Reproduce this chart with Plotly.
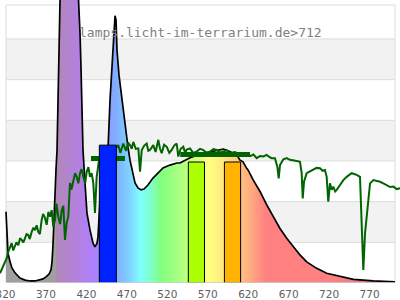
import plotly.graph_objects as go

# ---------------- data ----------------
# lamp spectrum (black curve with spectral fill)
lamp_nm = [320.6, 321.9, 323.1, 325.6, 328.0, 331.7, 335.5, 337.9, 344.1, 350.3, 356.5, 362.6,
           366.4, 370.1, 373.8, 376.2, 377.5, 378.7, 379.9, 381.2, 382.4, 383.7, 384.9, 386.1,
           387.4, 389.8, 394.8, 399.7, 404.7, 408.4, 410.9, 412.1, 413.3, 414.6, 415.8, 418.3,
           420.7, 424.5, 428.2, 430.6, 433.1, 434.3, 435.6, 436.8, 441.8, 446.7, 449.2, 451.6,
           452.9, 454.1, 455.4, 456.6, 457.8, 460.3, 464.0, 466.5, 468.9, 471.4, 473.9, 476.4,
           480.1, 483.8, 487.5, 491.2, 496.1, 502.3, 508.5, 514.7, 523.3, 532.0, 535.7, 548.1,
           564.2, 581.1, 589.3, 595.1, 605.8, 609.9, 613.6, 618.1, 619.8, 626.3, 634.6, 642.9,
           651.1, 659.3, 667.6, 675.8, 684.0, 692.3, 704.7, 717.0, 733.5, 750.0, 774.6, 801.4]
lamp_val = [1.75, 1.18, 0.74, 0.52, 0.37, 0.25, 0.17, 0.12, 0.07, 0.05, 0.05, 0.07,
            0.10, 0.15, 0.22, 0.32, 0.52, 0.93, 1.67, 2.29, 2.78, 3.27, 4.50, 5.73,
            6.96, 8.2, 9.4, 9.9, 9.4, 7.94, 6.96, 6.15, 5.31, 4.08, 3.27, 2.46,
            1.72, 1.30, 0.98, 0.89, 0.98, 1.13, 1.62, 2.04, 2.78, 3.27, 4.50, 5.24,
            5.73, 6.22, 6.57, 6.47, 5.73, 5.11, 4.50, 4.06, 3.69, 3.34, 3.02, 2.78,
            2.46, 2.34, 2.29, 2.31, 2.41, 2.58, 2.70, 2.83, 2.90, 2.95, 2.95, 3.08,
            3.19, 3.27, 3.29, 3.25, 3.15, 3.02, 2.98, 2.82, 2.78, 2.53, 2.25, 1.92,
            1.63, 1.34, 1.10, 0.89, 0.69, 0.52, 0.36, 0.24, 0.16, 0.09, 0.05, 0.03]

# daylight reference (green line)
day_nm = [313.2, 317.3, 321.5, 323.5, 325.6, 327.7, 329.5, 331.7, 333.5, 335.8, 338.0, 340.0,
          342.0, 344.1, 346.0, 348.2, 350.0, 352.4, 354.5, 356.5, 358.5, 360.5, 362.5, 364.7,
          366.5, 368.8, 370.9, 373.0, 375.0, 377.1, 379.1, 381.2, 383.0, 385.3, 387.5, 389.5,
          391.5, 393.5, 395.6, 397.6, 399.7, 401.5, 403.8, 406.0, 408.0, 410.0, 412.1, 414.0,
          416.2, 418.5, 420.4, 422.5, 424.4, 426.5, 428.5, 430.6, 432.7, 435.6, 446.7, 456.6,
          459.4, 462.0, 465.6, 469.0, 471.5, 473.9, 476.0, 478.0, 481.0, 484.2, 486.3, 488.4,
          491.5, 494.5, 496.5, 498.6, 502.7, 505.5, 508.9, 511.0, 513.1, 516.0, 519.3, 522.5,
          525.4, 528.5, 531.6, 533.6, 536.5, 539.8, 542.0, 544.0, 548.1, 552.0, 556.3, 560.5,
          564.5, 568.5, 572.8, 577.0, 581.1, 585.0, 589.2, 593.5, 597.5, 603.5, 609.9, 616.0,
          622.2, 626.5, 630.5, 634.5, 638.7, 642.9, 646.0, 649.0, 653.1, 656.0, 657.7, 659.3,
          663.5, 667.6, 671.5, 675.7, 680.0, 684.0, 686.1, 687.4, 689.0, 692.3, 696.5, 700.5,
          704.5, 708.8, 712.0, 714.9, 717.0, 719.0, 721.1, 723.2, 725.2, 727.5, 729.4, 733.5,
          737.6, 741.7, 744.5, 747.9, 751.0, 754.1, 758.2, 760.3, 762.3, 764.4, 766.5, 770.6,
          774.7, 778.5, 782.9, 787.0, 791.2, 795.5, 799.5, 803.5, 807.7]
day_val = [0.24, 0.44, 0.61, 0.77, 0.89, 0.98, 0.80, 0.89, 1.00, 0.93, 1.10, 1.06,
           1.00, 1.10, 1.20, 1.18, 1.08, 1.26, 1.36, 1.30, 1.42, 1.26, 1.20, 1.55,
           1.70, 1.60, 1.43, 1.75, 1.63, 1.79, 1.38, 1.55, 1.95, 1.63, 1.45, 1.79,
           1.90, 1.06, 1.48, 1.63, 2.46, 2.30, 2.53, 2.70, 2.61, 2.45, 2.70, 2.80,
           2.61, 2.45, 2.74, 2.85, 2.61, 2.70, 2.46, 1.72, 2.61, 3.02, 3.22, 3.32,
           3.39, 3.20, 3.43, 3.25, 3.45, 3.39, 3.30, 3.47, 3.30, 3.31, 2.74, 3.27,
           3.38, 3.43, 3.25, 3.27, 3.39, 3.22, 3.52, 3.30, 3.19, 3.40, 3.35, 3.20,
           3.27, 3.38, 3.43, 3.11, 3.30, 3.35, 3.20, 3.28, 3.31, 3.20, 3.23, 3.30,
           3.27, 3.20, 3.23, 3.29, 3.27, 3.21, 3.23, 3.26, 3.19, 3.22, 3.16, 3.17,
           3.12, 3.16, 3.07, 3.12, 3.11, 3.15, 3.10, 3.07, 3.07, 2.86, 2.57, 2.90,
           3.04, 3.07, 3.03, 3.02, 3.00, 2.98, 2.70, 2.08, 2.49, 2.70, 2.75, 2.78,
           2.83, 2.82, 2.76, 2.78, 2.61, 2.00, 2.45, 2.29, 2.37, 2.25, 2.29, 2.41,
           2.53, 2.61, 2.66, 2.70, 2.68, 2.66, 2.61, 1.63, 0.32, 1.22, 1.63, 2.45,
           2.53, 2.52, 2.49, 2.45, 2.41, 2.36, 2.37, 2.31, 2.33]

# band bars
bar_center = [446.5, 556.0, 600.6]
bar_width = [21.0, 20.0, 20.0]
bar_value = [3.39, 2.975, 2.975]
bar_color = ["#0022ff", "#aaff00", "#ffb300"]

# daylight band averages (thick dark green segments)
seg_start = [425.7, 536.0]
seg_end = [467.7, 622.2]
seg_value = [3.06, 3.16]

tick_vals = [320, 370, 420, 470, 520, 570, 620, 670, 720, 770]
tick_text = [str(v) for v in tick_vals]

title_text = "lamps.licht-im-terrarium.de>712"

# spectral fill colours (wavelength -> colour)
fill_stops_nm = [320, 382.5, 383, 410, 430, 437, 458, 475, 487, 500, 512, 530, 545, 560,
                 572, 588, 612, 628, 642, 720, 760, 802]
fill_stops_col = ["rgb(160,160,160)", "rgb(160,160,160)", "rgb(176,136,184)", "rgb(180,128,225)",
                  "rgb(172,128,255)", "rgb(150,140,255)", "rgb(128,176,255)", "rgb(128,215,255)",
                  "rgb(128,255,255)", "rgb(128,255,200)", "rgb(128,255,128)", "rgb(160,255,128)",
                  "rgb(190,255,128)", "rgb(225,255,128)", "rgb(255,255,128)", "rgb(255,235,128)",
                  "rgb(255,192,128)", "rgb(255,160,128)", "rgb(255,128,128)", "rgb(255,128,128)",
                  "rgb(235,128,128)", "rgb(215,128,128)"]

# ---------------- figure ----------------
W, H = 400, 300
PLOT_H = 283
PX_PER_NM = 0.809
X0_NM = 320 - 5.5 / PX_PER_NM
X1_NM = X0_NM + W / PX_PER_NM
PX_PER_UNIT = 40.67
Y_TOP = PLOT_H / PX_PER_UNIT
FRAME_TOP = (PLOT_H - 5) / PX_PER_UNIT
FX0, FX1 = 6 / W, 395 / W

lo, hi = fill_stops_nm[0], fill_stops_nm[-1]
colorscale = [[(n - lo) / (hi - lo), c] for n, c in zip(fill_stops_nm, fill_stops_col)]

fig = go.Figure()

fig.add_trace(go.Scatter(
    x=lamp_nm, y=lamp_val, mode="lines", fill="tozeroy",
    fillgradient=dict(type="horizontal", colorscale=colorscale, start=lo, stop=hi),
    line=dict(color="black", width=1.7, shape="linear"), hoverinfo="skip", showlegend=False))

fig.add_trace(go.Scatter(
    x=day_nm, y=day_val, mode="lines", line=dict(color="#006400", width=2),
    hoverinfo="skip", showlegend=False))

for s, e, v in zip(seg_start, seg_end, seg_value):
    fig.add_trace(go.Scatter(x=[s, e], y=[v, v], mode="lines",
                             line=dict(color="#006400", width=5),
                             hoverinfo="skip", showlegend=False))

for c, w, v, col in zip(bar_center, bar_width, bar_value, bar_color):
    l, r = c - w / 2, c + w / 2
    fig.add_trace(go.Scatter(x=[l, l, r, r, l], y=[0, v, v, 0, 0], mode="lines",
                             fill="toself", fillcolor=col,
                             line=dict(color="black", width=1),
                             hoverinfo="skip", showlegend=False))

shapes = []
for k in (1, 3, 5):
    shapes.append(dict(type="rect", xref="paper", yref="y", x0=FX0, x1=FX1, y0=k, y1=k + 1,
                       fillcolor="#f2f2f2", line=dict(width=0), layer="below"))
for k in range(1, 7):
    shapes.append(dict(type="line", xref="paper", yref="y", x0=FX0, x1=FX1, y0=k, y1=k,
                       line=dict(color="#dcdcdc", width=1), layer="below"))
# frame
shapes.append(dict(type="line", xref="paper", yref="y", x0=FX0, x1=FX1, y0=FRAME_TOP, y1=FRAME_TOP,
                   line=dict(color="#dcdcdc", width=1), layer="below"))
shapes.append(dict(type="line", xref="paper", yref="y", x0=FX0, x1=FX0, y0=0, y1=FRAME_TOP,
                   line=dict(color="#dcdcdc", width=1), layer="below"))
shapes.append(dict(type="line", xref="paper", yref="y", x0=FX1, x1=FX1, y0=0, y1=FRAME_TOP,
                   line=dict(color="#dcdcdc", width=1), layer="below"))
shapes.append(dict(type="line", xref="paper", yref="y", x0=FX0, x1=FX1, y0=0, y1=0,
                   line=dict(color="#cccccc", width=1.5), layer="above"))

fig.update_layout(
    width=W, height=H,
    margin=dict(l=0, r=0, t=0, b=H - PLOT_H, pad=0, autoexpand=False),
    paper_bgcolor="white", plot_bgcolor="white",
    showlegend=False,
    shapes=shapes,
    xaxis=dict(range=[X0_NM, X1_NM], tickmode="array", tickvals=tick_vals, ticktext=tick_text,
               showgrid=False, zeroline=False, showline=False, ticks="",
               automargin=False, ticklabeloverflow="allow", ticklabelstandoff=3,
               tickfont=dict(family="DejaVu Sans", size=10.5, color="#606060"),
               fixedrange=True),
    yaxis=dict(range=[0, Y_TOP], visible=False, fixedrange=True, automargin=False),
    annotations=[dict(text=title_text, xref="paper", yref="paper", x=77 / W,
                      y=1 - 32.5 / PLOT_H, xanchor="left", yanchor="middle", showarrow=False,
                      font=dict(family="DejaVu Sans Mono", size=13, color="#808080"))],
)

fig.write_html("out.html")
